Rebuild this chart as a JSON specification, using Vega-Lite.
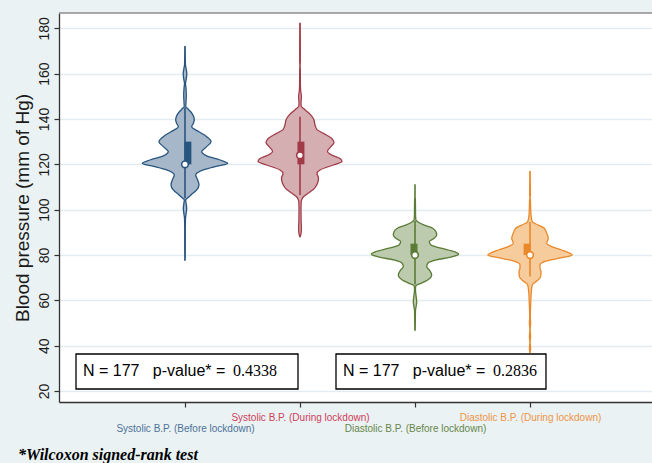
{
  "$schema": "https://vega.github.io/schema/vega-lite/v6.json",
  "width": 593,
  "height": 389,
  "autosize": {"type": "none"},
  "padding": {"left": 59, "top": 13, "right": 0, "bottom": 61},
  "background": "#eaf2f3",
  "config": {"view": {"fill": "white", "stroke": null}, "font": "Liberation Sans"},
  "title": {"text": "*Wilcoxon signed-rank test", "orient": "bottom", "anchor": "start", "frame": "bounds", "font": "Liberation Serif", "fontSize": 16, "fontWeight": "bold", "fontStyle": "italic", "color": "black", "offset": 14, "dx": 5},
  "datasets": {
    "v1": [
      {"bp": 77.8, "density": 0.0002}, {"bp": 85, "density": 0.0003}, {"bp": 92, "density": 0.0003}, {"bp": 96.2, "density": 0.0005},
      {"bp": 98.5, "density": 0.0012}, {"bp": 100.6, "density": 0.0017}, {"bp": 102.5, "density": 0.0012}, {"bp": 104.3, "density": 0.0007},
      {"bp": 105.0, "density": 0.0023}, {"bp": 106.5, "density": 0.006}, {"bp": 108.7, "density": 0.0117}, {"bp": 110.9, "density": 0.014},
      {"bp": 113.1, "density": 0.0127}, {"bp": 115.3, "density": 0.0107}, {"bp": 117.5, "density": 0.0183}, {"bp": 119.3, "density": 0.0333},
      {"bp": 120.4, "density": 0.0427}, {"bp": 121.9, "density": 0.035}, {"bp": 123.7, "density": 0.0217}, {"bp": 125.6, "density": 0.0167},
      {"bp": 127.8, "density": 0.0217}, {"bp": 130.0, "density": 0.026}, {"bp": 132.2, "density": 0.0217}, {"bp": 134.4, "density": 0.014},
      {"bp": 136.6, "density": 0.0067}, {"bp": 138.0, "density": 0.0083}, {"bp": 139.6, "density": 0.0093}, {"bp": 141.0, "density": 0.0087},
      {"bp": 143.2, "density": 0.0057}, {"bp": 144.7, "density": 0.0023}, {"bp": 145.4, "density": 0.0008}, {"bp": 147.5, "density": 0.001},
      {"bp": 150.6, "density": 0.0013}, {"bp": 153.5, "density": 0.001}, {"bp": 155.7, "density": 0.0005}, {"bp": 157.5, "density": 0.0012},
      {"bp": 160.1, "density": 0.0018}, {"bp": 162, "density": 0.0012}, {"bp": 163.8, "density": 0.0005}, {"bp": 167, "density": 0.0003},
      {"bp": 171.9, "density": 0.0002}
    ],
    "v2": [
      {"bp": 88.1, "density": 0.0003}, {"bp": 90, "density": 0.0012}, {"bp": 92, "density": 0.0014}, {"bp": 95, "density": 0.0011},
      {"bp": 100, "density": 0.001}, {"bp": 103.5, "density": 0.0012}, {"bp": 104.5, "density": 0.0018}, {"bp": 105.7, "density": 0.0035},
      {"bp": 107.2, "density": 0.008}, {"bp": 109.4, "density": 0.0145}, {"bp": 111.6, "density": 0.0175}, {"bp": 113.8, "density": 0.0185},
      {"bp": 116.0, "density": 0.017}, {"bp": 117.5, "density": 0.02}, {"bp": 119.7, "density": 0.0333}, {"bp": 121.2, "density": 0.042},
      {"bp": 122.6, "density": 0.04}, {"bp": 124.1, "density": 0.0317}, {"bp": 125.8, "density": 0.0275}, {"bp": 127.6, "density": 0.0305},
      {"bp": 129.6, "density": 0.034}, {"bp": 131.5, "density": 0.0315}, {"bp": 133.7, "density": 0.0233}, {"bp": 135.3, "density": 0.017},
      {"bp": 137.4, "density": 0.015}, {"bp": 139.6, "density": 0.014}, {"bp": 141.8, "density": 0.0107}, {"bp": 143.2, "density": 0.0073},
      {"bp": 144.7, "density": 0.0033}, {"bp": 145.6, "density": 0.0012}, {"bp": 147.2, "density": 0.001}, {"bp": 149.9, "density": 0.0014},
      {"bp": 152.8, "density": 0.0006}, {"bp": 155, "density": 0.0004}, {"bp": 161.6, "density": 0.0003}, {"bp": 163.5, "density": 0.0001},
      {"bp": 165.3, "density": 0.0003}, {"bp": 172, "density": 0.0003}, {"bp": 182.2, "density": 0.0002}
    ],
    "v3": [
      {"bp": 46.9, "density": 0.0002}, {"bp": 50, "density": 0.0003}, {"bp": 55.7, "density": 0.0005}, {"bp": 57.5, "density": 0.0012},
      {"bp": 59.4, "density": 0.0017}, {"bp": 61.5, "density": 0.0012}, {"bp": 63.8, "density": 0.0006}, {"bp": 65.3, "density": 0.0005},
      {"bp": 66.5, "density": 0.001}, {"bp": 67.5, "density": 0.006}, {"bp": 69.0, "density": 0.0127}, {"bp": 71.2, "density": 0.0167},
      {"bp": 73.4, "density": 0.0143}, {"bp": 74.9, "density": 0.0117}, {"bp": 76.3, "density": 0.0127}, {"bp": 77.8, "density": 0.021},
      {"bp": 79.1, "density": 0.036}, {"bp": 80.3, "density": 0.0437}, {"bp": 81.5, "density": 0.0393}, {"bp": 83.0, "density": 0.026},
      {"bp": 84.4, "density": 0.016}, {"bp": 85.9, "density": 0.0143}, {"bp": 87.4, "density": 0.0193}, {"bp": 88.8, "density": 0.0217},
      {"bp": 90.3, "density": 0.021}, {"bp": 91.8, "density": 0.0177}, {"bp": 93.2, "density": 0.0093}, {"bp": 94.7, "density": 0.0027},
      {"bp": 95.4, "density": 0.001}, {"bp": 97, "density": 0.0006}, {"bp": 100, "density": 0.0005}, {"bp": 104.3, "density": 0.0004},
      {"bp": 105.5, "density": 0.00015}, {"bp": 110.9, "density": 0.00015}
    ],
    "v4": [
      {"bp": 37, "density": 0.00015}, {"bp": 39, "density": 0.0006}, {"bp": 41.5, "density": 0.00015}, {"bp": 44, "density": 0.0006},
      {"bp": 47, "density": 0.00015}, {"bp": 50, "density": 0.0006}, {"bp": 52.5, "density": 0.0003}, {"bp": 56.5, "density": 0.0005},
      {"bp": 59.4, "density": 0.0008}, {"bp": 63.8, "density": 0.0013}, {"bp": 66.8, "density": 0.0023}, {"bp": 68.5, "density": 0.0067},
      {"bp": 70.5, "density": 0.0107}, {"bp": 72.6, "density": 0.011}, {"bp": 74.1, "density": 0.01}, {"bp": 75.6, "density": 0.01},
      {"bp": 77.4, "density": 0.0167}, {"bp": 78.8, "density": 0.0317}, {"bp": 80.0, "density": 0.0423}, {"bp": 80.7, "density": 0.04},
      {"bp": 82.2, "density": 0.0317}, {"bp": 83.7, "density": 0.0217}, {"bp": 85.2, "density": 0.0167}, {"bp": 87.4, "density": 0.0183},
      {"bp": 89.6, "density": 0.0167}, {"bp": 91.8, "density": 0.0143}, {"bp": 93.2, "density": 0.0083}, {"bp": 94.7, "density": 0.0023},
      {"bp": 97.6, "density": 0.001}, {"bp": 100, "density": 0.0007}, {"bp": 104.3, "density": 0.0004}, {"bp": 105.5, "density": 0.0001},
      {"bp": 106.5, "density": 0.0004}, {"bp": 110, "density": 0.0003}, {"bp": 116.75, "density": 0.0002}
    ],
    "summary": [
      {"group": "Systolic B.P. (Before lockdown)", "pos": 1, "lower": 105, "q1": 120, "median": 120, "q3": 130, "upper": 145},
      {"group": "Systolic B.P. (During lockdown)", "pos": 2, "lower": 106.5, "q1": 120, "median": 124, "q3": 130, "upper": 141},
      {"group": "Diastolic B.P. (Before lockdown)", "pos": 3, "lower": 67, "q1": 80, "median": 80, "q3": 85, "upper": 95},
      {"group": "Diastolic B.P. (During lockdown)", "pos": 4, "lower": 70.5, "q1": 80, "median": 80, "q3": 85, "upper": 94.5}
    ]
  },
  "resolve": {"scale": {"x": "independent"}, "axis": {"x": "independent"}},
  "layer": [
    {
      "data": {"name": "summary"},
      "mark": {"type": "rule", "strokeWidth": 1.6},
      "encoding": {
        "x": {"field": "pos", "type": "quantitative", "scale": {"domain": [-0.0957, 5.0609], "nice": false, "zero": false},
          "axis": {"orient": "bottom", "values": [1, 2, 3, 4], "title": null, "grid": false,
            "labelExpr": "datum.value == 1 ? 'Systolic B.P. (Before lockdown)' : datum.value == 2 ? 'Systolic B.P. (During lockdown)' : datum.value == 3 ? 'Diastolic B.P. (Before lockdown)' : 'Diastolic B.P. (During lockdown)'",
            "labelColor": {"condition": [{"test": "datum.value == 1", "value": "#4d719a"}, {"test": "datum.value == 2", "value": "#d0405a"}, {"test": "datum.value == 3", "value": "#66864a"}], "value": "#ef9448"},
            "labelPadding": {"condition": {"test": "datum.value == 1 || datum.value == 3", "value": 16}, "value": 5},
            "labelBaseline": "top", "labelAlign": "center", "labelAngle": 0, "labelFontSize": 10, "labelOverlap": false, "labelBound": false, "labelFlush": false,
            "tickSize": 5, "tickColor": "#333333", "tickWidth": 1.2, "domainColor": "#333333", "domainWidth": 1.3}},
        "y": {"field": "lower", "type": "quantitative", "scale": {"domain": [15.15, 186.75], "nice": false, "zero": false},
          "axis": {"orient": "left", "values": [20, 40, 60, 80, 100, 120, 140, 160, 180], "title": "Blood pressure (mm of Hg)", "labelAngle": 270, "labelAlign": "center", "labelBaseline": "bottom", "labelFontSize": 14, "labelColor": "#1a1a1a", "labelPadding": 3, "labelOverlap": false, "tickSize": 5, "tickColor": "#333333", "tickWidth": 1.2, "domainColor": "#333333", "domainWidth": 1.3, "grid": true, "gridColor": "#e3edf1", "gridWidth": 1.6, "titleFontSize": 19, "titleFontWeight": "normal", "titleColor": "#1a1a1a", "titlePadding": 5}},
        "y2": {"field": "upper"},
        "color": {"field": "group", "type": "nominal", "scale": {"domain": ["Systolic B.P. (Before lockdown)", "Systolic B.P. (During lockdown)", "Diastolic B.P. (Before lockdown)", "Diastolic B.P. (During lockdown)"], "range": ["#28557f", "#a13b47", "#5a7c36", "#e9892b"]}, "legend": null}
      }
    },
    {
      "data": {"values": [{}]},
      "mark": {"type": "rule", "color": "#8c8c8c", "strokeWidth": 1.5},
      "encoding": {
        "y": {"datum": 186.75, "type": "quantitative", "scale": {"domain": [15.15, 186.75], "nice": false, "zero": false}}
      }
    },
    {
      "data": {"name": "v1"},
      "mark": {"type": "area", "orient": "horizontal", "interpolate": "monotone", "fill": "#a5b7c9", "fillOpacity": 1, "stroke": "#28557f", "strokeWidth": 1.3},
      "encoding": {
        "y": {"field": "bp", "type": "quantitative", "scale": {"domain": [15.15, 186.75], "nice": false, "zero": false}},
        "x": {"field": "density", "type": "quantitative", "stack": "center", "impute": null, "scale": {"domain": [-0.04165, 0.25485], "nice": false, "zero": false}, "axis": null}
      }
    },
    {
      "data": {"name": "v2"},
      "mark": {"type": "area", "orient": "horizontal", "interpolate": "monotone", "fill": "#d5aeb2", "fillOpacity": 1, "stroke": "#a13b47", "strokeWidth": 1.3},
      "encoding": {
        "y": {"field": "bp", "type": "quantitative", "scale": {"domain": [15.15, 186.75], "nice": false, "zero": false}},
        "x": {"field": "density", "type": "quantitative", "stack": "center", "impute": null, "scale": {"domain": [-0.0995, 0.197], "nice": false, "zero": false}, "axis": null}
      }
    },
    {
      "data": {"name": "v3"},
      "mark": {"type": "area", "orient": "horizontal", "interpolate": "monotone", "fill": "#bccaae", "fillOpacity": 1, "stroke": "#5a7c36", "strokeWidth": 1.3},
      "encoding": {
        "y": {"field": "bp", "type": "quantitative", "scale": {"domain": [15.15, 186.75], "nice": false, "zero": false}},
        "x": {"field": "density", "type": "quantitative", "stack": "center", "impute": null, "scale": {"domain": [-0.15615, 0.14035], "nice": false, "zero": false}, "axis": null}
      }
    },
    {
      "data": {"name": "v4"},
      "mark": {"type": "area", "orient": "horizontal", "interpolate": "monotone", "fill": "#f6cc9c", "fillOpacity": 1, "stroke": "#e9892b", "strokeWidth": 1.3},
      "encoding": {
        "y": {"field": "bp", "type": "quantitative", "scale": {"domain": [15.15, 186.75], "nice": false, "zero": false}},
        "x": {"field": "density", "type": "quantitative", "stack": "center", "impute": null, "scale": {"domain": [-0.21435, 0.08215], "nice": false, "zero": false}, "axis": null}
      }
    },
    {
      "data": {"name": "summary"},
      "mark": {"type": "rule", "strokeWidth": 1.6},
      "encoding": {
        "x": {"field": "pos", "type": "quantitative", "scale": {"domain": [-0.0957, 5.0609], "nice": false, "zero": false}, "axis": null},
        "y": {"field": "lower", "type": "quantitative", "scale": {"domain": [15.15, 186.75], "nice": false, "zero": false}},
        "y2": {"field": "upper"},
        "color": {"field": "group", "type": "nominal", "legend": null}
      }
    },
    {
      "data": {"name": "summary"},
      "mark": {"type": "bar", "width": 7},
      "encoding": {
        "x": {"field": "pos", "type": "quantitative", "scale": {"domain": [-0.0957, 5.0609], "nice": false, "zero": false}, "axis": null},
        "y": {"field": "q1", "type": "quantitative", "scale": {"domain": [15.15, 186.75], "nice": false, "zero": false}},
        "y2": {"field": "q3"},
        "color": {"field": "group", "type": "nominal", "legend": null}
      }
    },
    {
      "data": {"name": "summary"},
      "mark": {"type": "point", "shape": "circle", "filled": false, "fill": "white", "fillOpacity": 1, "size": 45, "strokeWidth": 1.6, "opacity": 1},
      "encoding": {
        "x": {"field": "pos", "type": "quantitative", "scale": {"domain": [-0.0957, 5.0609], "nice": false, "zero": false}, "axis": null},
        "y": {"field": "median", "type": "quantitative", "scale": {"domain": [15.15, 186.75], "nice": false, "zero": false}},
        "color": {"field": "group", "type": "nominal", "legend": null}
      }
    },
    {
      "data": {"values": [{}]},
      "mark": {"type": "rect", "fill": "white", "stroke": "black", "strokeWidth": 1.3},
      "encoding": {
        "x": {"datum": 0.0522, "type": "quantitative", "scale": {"domain": [-0.0957, 5.0609], "nice": false, "zero": false}, "axis": null},
        "x2": {"datum": 1.9826},
        "y": {"datum": 36.33, "type": "quantitative", "scale": {"domain": [15.15, 186.75], "nice": false, "zero": false}},
        "y2": {"datum": 20.89}
      }
    },
    {
      "data": {"values": [{}]},
      "mark": {"type": "rect", "fill": "white", "stroke": "black", "strokeWidth": 1.3},
      "encoding": {
        "x": {"datum": 2.313, "type": "quantitative", "scale": {"domain": [-0.0957, 5.0609], "nice": false, "zero": false}, "axis": null},
        "x2": {"datum": 4.139},
        "y": {"datum": 36.33, "type": "quantitative", "scale": {"domain": [15.15, 186.75], "nice": false, "zero": false}},
        "y2": {"datum": 20.89}
      }
    },
    {
      "data": {"values": [{"label": "N = 177\u00a0\u00a0\u00a0p-value* ="}]},
      "mark": {"type": "text", "align": "left", "baseline": "alphabetic", "font": "Liberation Sans", "fontSize": 16, "color": "black"},
      "encoding": {
        "x": {"datum": 0.113, "type": "quantitative", "scale": {"domain": [-0.0957, 5.0609], "nice": false, "zero": false}, "axis": null},
        "y": {"datum": 26.63, "type": "quantitative", "scale": {"domain": [15.15, 186.75], "nice": false, "zero": false}},
        "text": {"field": "label"}
      }
    },
    {
      "data": {"values": [{"label": "0.4338"}]},
      "mark": {"type": "text", "align": "left", "baseline": "alphabetic", "font": "Liberation Serif", "fontSize": 16, "color": "black"},
      "encoding": {
        "x": {"datum": 1.4174, "type": "quantitative", "scale": {"domain": [-0.0957, 5.0609], "nice": false, "zero": false}, "axis": null},
        "y": {"datum": 26.63, "type": "quantitative", "scale": {"domain": [15.15, 186.75], "nice": false, "zero": false}},
        "text": {"field": "label"}
      }
    },
    {
      "data": {"values": [{"label": "N = 177\u00a0\u00a0\u00a0p-value* ="}]},
      "mark": {"type": "text", "align": "left", "baseline": "alphabetic", "font": "Liberation Sans", "fontSize": 16, "color": "black"},
      "encoding": {
        "x": {"datum": 2.374, "type": "quantitative", "scale": {"domain": [-0.0957, 5.0609], "nice": false, "zero": false}, "axis": null},
        "y": {"datum": 26.63, "type": "quantitative", "scale": {"domain": [15.15, 186.75], "nice": false, "zero": false}},
        "text": {"field": "label"}
      }
    },
    {
      "data": {"values": [{"label": "0.2836"}]},
      "mark": {"type": "text", "align": "left", "baseline": "alphabetic", "font": "Liberation Serif", "fontSize": 16, "color": "black"},
      "encoding": {
        "x": {"datum": 3.678, "type": "quantitative", "scale": {"domain": [-0.0957, 5.0609], "nice": false, "zero": false}, "axis": null},
        "y": {"datum": 26.63, "type": "quantitative", "scale": {"domain": [15.15, 186.75], "nice": false, "zero": false}},
        "text": {"field": "label"}
      }
    }
  ]
}
